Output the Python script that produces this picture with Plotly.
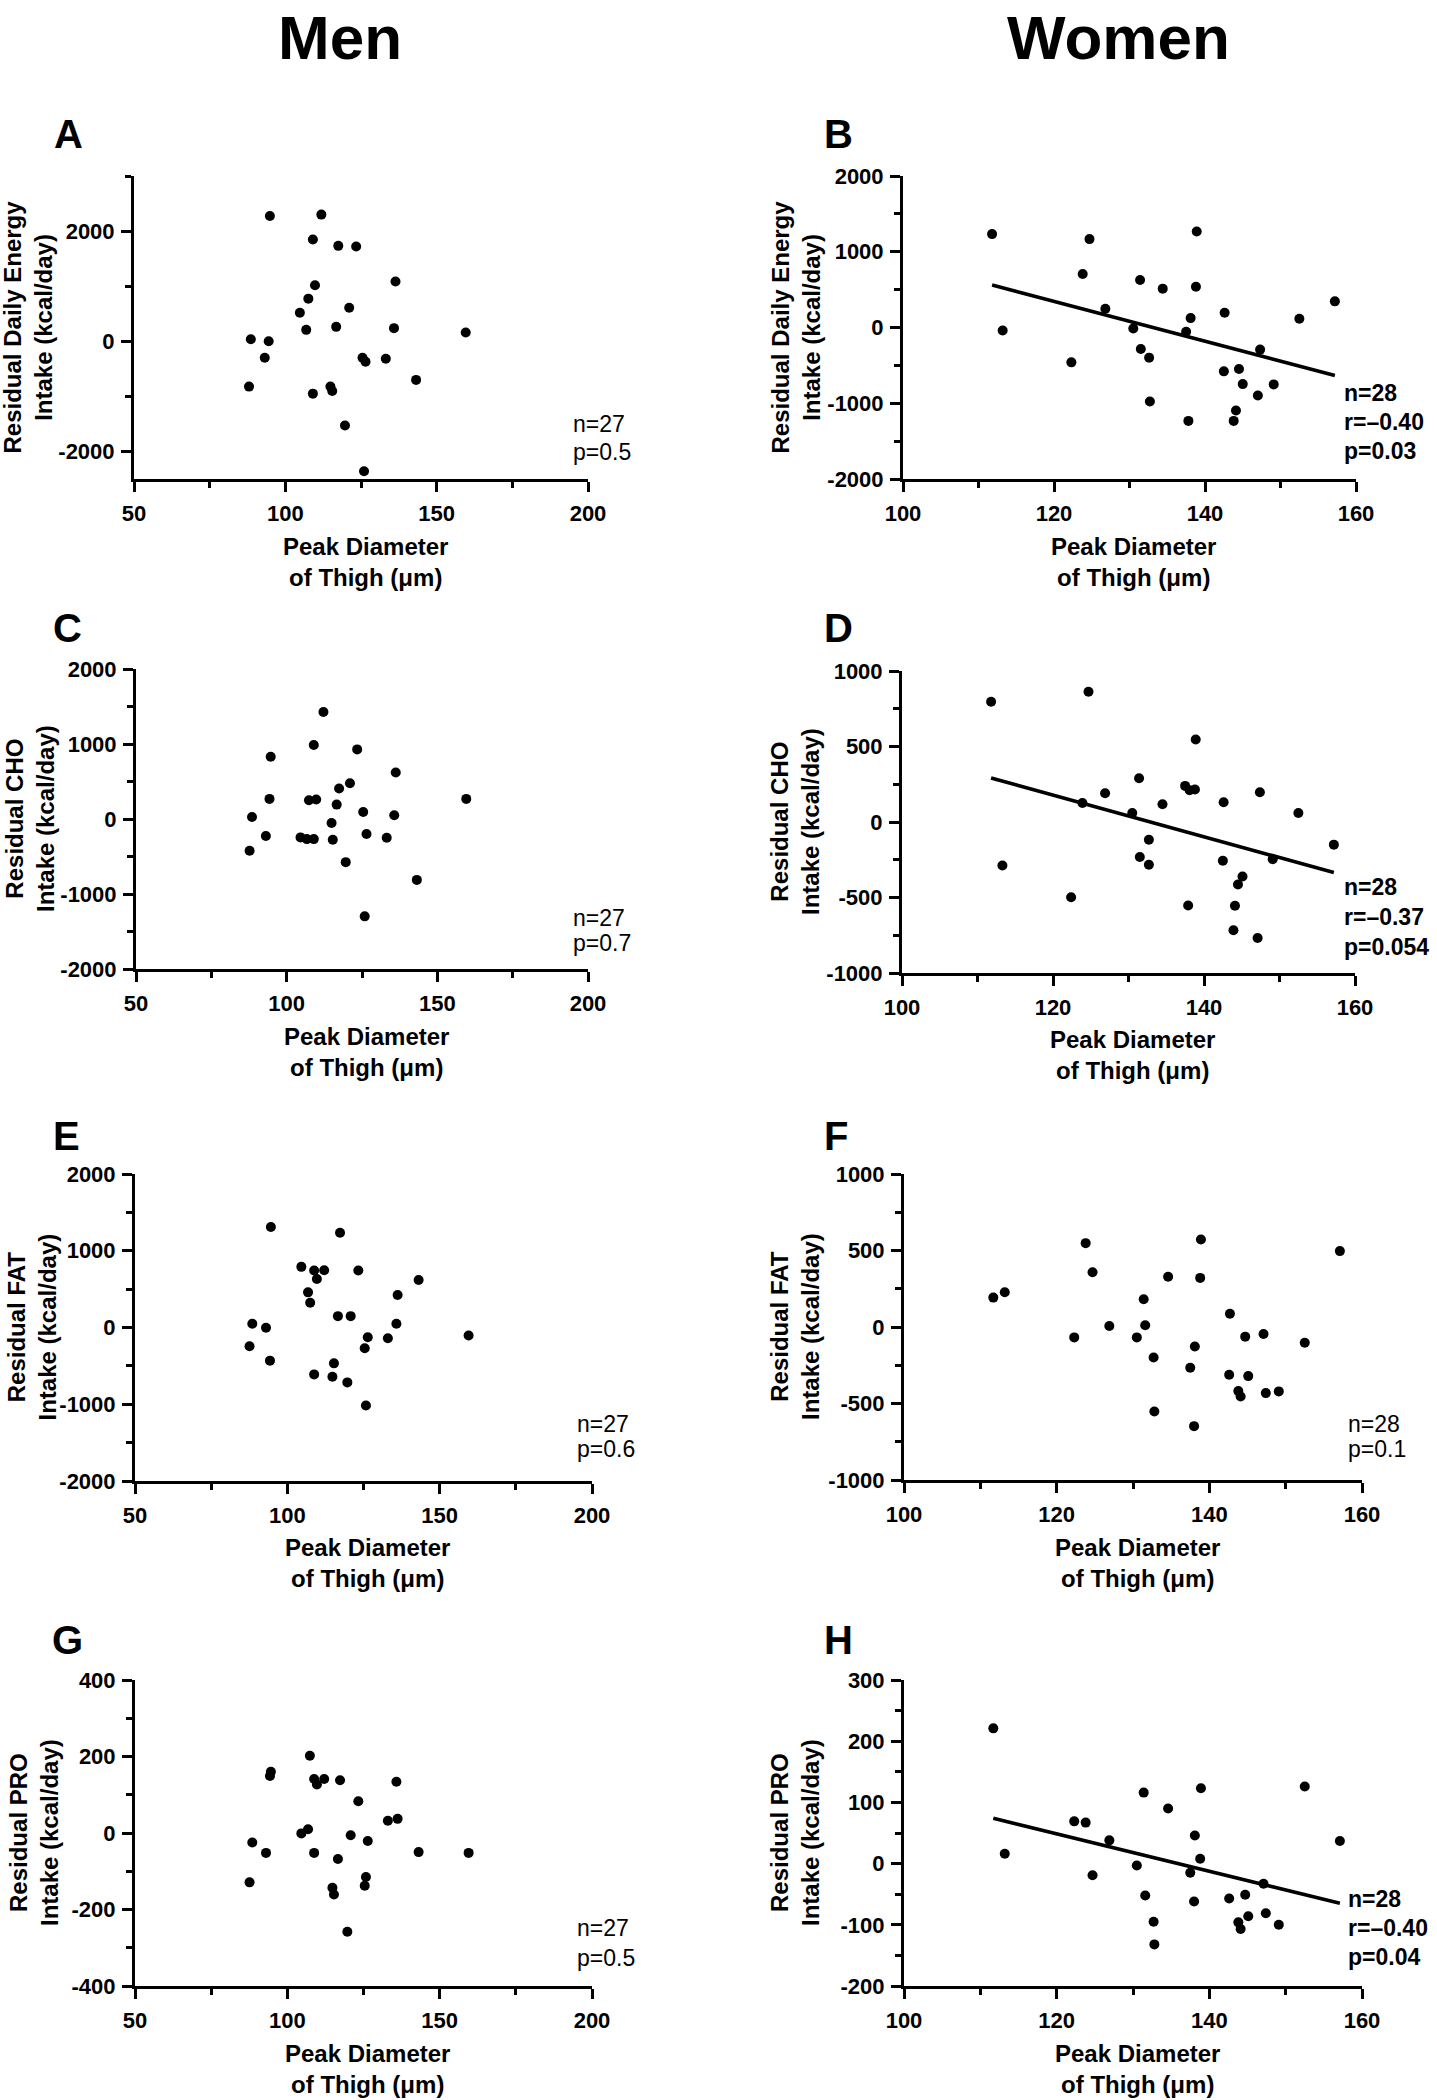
import numpy as np
import plotly.graph_objects as go

W, H = 1437, 2100

# ---------------- data ----------------
# Men: Peak diameter of thigh (um) vs residual intake (kcal/day)
men_energy_x = [94.9, 111.9, 109.1, 117.5, 123.4, 136.4, 109.8, 107.6, 104.8, 121.1, 106.9, 116.8, 135.9, 159.6,
                88.6, 94.5, 93.2, 125.5, 126.5, 133.2, 88.0, 143.2, 114.9, 115.5, 109.1, 119.7, 126.0]
men_energy_y = [2274, 2299, 1848, 1732, 1720, 1085, 1018, 774, 518, 610, 207, 262, 238, 159,
                37, 0, -299, -299, -372, -317, -823, -701, -823, -902, -951, -1530, -2360]

men_cho_x = [112.2, 109.0, 123.4, 94.7, 136.2, 121.0, 117.4, 94.3, 107.4, 109.8, 159.6, 116.6, 125.4, 135.7,
             88.5, 114.9, 93.1, 104.6, 106.7, 109.0, 115.3, 126.5, 133.2, 87.7, 119.6, 143.2, 125.9]
men_cho_y = [1427, 986, 928, 829, 620, 477, 406, 268, 250, 259, 268, 192, 94, 49,
             27, -54, -227, -245, -268, -268, -276, -201, -250, -424, -575, -812, -1298]

men_fat_x = [94.6, 117.3, 104.6, 108.8, 112.1, 123.3, 109.7, 143.1, 106.8, 136.2, 107.5, 116.6, 120.8, 88.5,
             93.0, 135.8, 159.5, 126.4, 133.0, 125.4, 87.6, 94.3, 115.3, 108.8, 114.8, 119.7, 125.8]
men_fat_y = [1309, 1234, 790, 742, 746, 742, 632, 619, 458, 423, 323, 148, 148, 48,
             -4, 48, -105, -126, -140, -270, -244, -432, -467, -611, -641, -715, -1016]

men_pro_x = [107.4, 94.6, 94.3, 108.8, 112.1, 109.7, 117.3, 135.8, 123.3, 133.0, 136.2, 106.8, 104.6, 120.8,
             126.4, 88.5, 93.0, 108.8, 143.1, 159.5, 116.6, 125.8, 125.4, 87.6, 114.8, 115.3, 119.7]
men_pro_y = [202, 160, 149, 141, 141, 127, 138, 134, 83, 32, 37, 10, -1, -6,
             -21, -25, -52, -52, -50, -52, -68, -115, -138, -129, -143, -161, -258]

# Women
women_energy_x = [111.8, 113.2, 124.7, 123.8, 122.3, 126.8, 130.5, 131.4, 131.5, 132.6, 132.7, 134.4, 138.9, 138.8,
                  138.1, 137.5, 137.8, 142.6, 142.5, 144.5, 145.0, 144.1, 143.8, 147.3, 147.0, 149.1, 152.5, 157.2]
women_energy_y = [1233, -40, 1167, 707, -460, 248, -13, 628, -283, -398, -977, 513, 1268, 539,
                  124, -57, -1233, 194, -579, -548, -747, -1096, -1233, -292, -897, -751, 115, 345]

women_cho_x = [111.8, 113.3, 124.7, 123.9, 122.4, 126.9, 130.5, 131.4, 131.5, 132.7, 132.7, 134.5, 138.9, 137.5,
               138.1, 138.8, 137.9, 142.6, 142.5, 145.1, 144.5, 144.1, 143.9, 147.4, 147.1, 149.1, 152.5, 157.2]
women_cho_y = [796, -288, 863, 126, -498, 190, 60, 290, -232, -117, -283, 117, 546, 239,
               210, 215, -553, 131, -257, -361, -414, -555, -717, 197, -768, -246, 60, -150]

women_fat_x = [111.7, 113.2, 123.8, 124.7, 122.3, 126.9, 130.5, 131.4, 131.6, 132.7, 132.8, 134.6, 138.9, 138.8,
               138.1, 137.5, 138.0, 142.7, 142.6, 144.7, 145.1, 143.8, 144.1, 147.1, 147.4, 149.1, 152.5, 157.1]
women_fat_y = [192, 227, 548, 358, -68, 7, -68, 181, 11, -199, -552, 328, 572, 321,
               -127, -266, -648, 87, -312, -63, -321, -419, -454, -46, -432, -421, -103, 496]

women_pro_x = [111.7, 113.2, 122.3, 123.8, 124.7, 126.9, 130.5, 131.4, 131.6, 132.7, 132.8, 134.6, 138.9, 138.1,
               138.8, 137.5, 138.0, 142.6, 144.7, 145.1, 143.8, 144.1, 147.1, 147.4, 149.1, 152.5, 157.1]
women_pro_y = [221, 16, 69, 67, -19, 38, -3, 116, -52, -95, -132, 90, 123, 46,
               8, -15, -62, -57, -51, -86, -96, -107, -33, -81, -100, 126, 37]

# tick values / labels
men_x_ticks = [50, 100, 150, 200]
women_x_ticks = [100, 120, 140, 160]
ticks_A = [-2000, 0, 2000]
ticks_2000 = [-2000, -1000, 0, 1000, 2000]
ticks_1000 = [-1000, -500, 0, 500, 1000]
ticks_400 = [-400, -200, 0, 200, 400]
ticks_H = [-200, -100, 0, 100, 200, 300]

column_titles = ["Men", "Women"]
stats_A = ["n=27", "p=0.5"]
stats_B = ["n=28", "r=\u20130.40", "p=0.03"]
stats_C = ["n=27", "p=0.7"]
stats_D = ["n=28", "r=\u20130.37", "p=0.054"]
stats_E = ["n=27", "p=0.6"]
stats_F = ["n=28", "p=0.1"]
stats_G = ["n=27", "p=0.5"]
stats_H = ["n=28", "r=\u20130.40", "p=0.04"]

ytitle_energy = "Residual Daily Energy<br>Intake (kcal/day)"
ytitle_cho = "Residual CHO<br>Intake (kcal/day)"
ytitle_fat = "Residual FAT<br>Intake (kcal/day)"
ytitle_pro = "Residual PRO<br>Intake (kcal/day)"
xtitle = "Peak Diameter<br>of Thigh (\u03bcm)"

# ---------------- panel configuration ----------------
FONT = "Arial, Liberation Sans, sans-serif"

panels = [
    dict(letter="A", x=men_energy_x, y=men_energy_y, fit=False, xr=[50, 200], xt=men_x_ticks, xminor=25,
         yr=[-2500, 3000], yt=ticks_A, yminor=1000, ytitle=ytitle_energy, stats=stats_A,
         box=(134, 588, 176, 479), letter_pos=(68, 134), ytitle_x=27, xtitle_y=562,
         stats_pos=(571, 424, 28), bold_stats=False),
    dict(letter="B", x=women_energy_x, y=women_energy_y, fit=True, xr=[100, 160], xt=women_x_ticks, xminor=10,
         yr=[-2000, 2000], yt=ticks_2000, yminor=500, ytitle=ytitle_energy, stats=stats_B,
         box=(903, 1356, 176, 479), letter_pos=(838, 134), ytitle_x=795, xtitle_y=562,
         stats_pos=(1342, 393, 29), bold_stats=True),
    dict(letter="C", x=men_cho_x, y=men_cho_y, fit=False, xr=[50, 200], xt=men_x_ticks, xminor=25,
         yr=[-2000, 2000], yt=ticks_2000, yminor=500, ytitle=ytitle_cho, stats=stats_C,
         box=(136, 588, 669, 969), letter_pos=(67, 628), ytitle_x=30, xtitle_y=1052,
         stats_pos=(571, 918, 25), bold_stats=False),
    dict(letter="D", x=women_cho_x, y=women_cho_y, fit=True, xr=[100, 160], xt=women_x_ticks, xminor=10,
         yr=[-1000, 1000], yt=ticks_1000, yminor=250, ytitle=ytitle_cho, stats=stats_D,
         box=(902, 1355, 671, 973), letter_pos=(838, 628), ytitle_x=795, xtitle_y=1055,
         stats_pos=(1342, 887, 30), bold_stats=True),
    dict(letter="E", x=men_fat_x, y=men_fat_y, fit=False, xr=[50, 200], xt=men_x_ticks, xminor=25,
         yr=[-2000, 2000], yt=ticks_2000, yminor=500, ytitle=ytitle_fat, stats=stats_E,
         box=(135, 592, 1174, 1481), letter_pos=(66, 1136), ytitle_x=31, xtitle_y=1563,
         stats_pos=(575, 1424, 25), bold_stats=False),
    dict(letter="F", x=women_fat_x, y=women_fat_y, fit=False, xr=[100, 160], xt=women_x_ticks, xminor=10,
         yr=[-1000, 1000], yt=ticks_1000, yminor=250, ytitle=ytitle_fat, stats=stats_F,
         box=(904, 1362, 1174, 1480), letter_pos=(836, 1136), ytitle_x=795, xtitle_y=1563,
         stats_pos=(1346, 1424, 25), bold_stats=False),
    dict(letter="G", x=men_pro_x, y=men_pro_y, fit=False, xr=[50, 200], xt=men_x_ticks, xminor=25,
         yr=[-400, 400], yt=ticks_400, yminor=100, ytitle=ytitle_pro, stats=stats_G,
         box=(135, 592, 1680, 1986), letter_pos=(67, 1640), ytitle_x=34, xtitle_y=2069,
         stats_pos=(575, 1928, 30), bold_stats=False),
    dict(letter="H", x=women_pro_x, y=women_pro_y, fit=True, xr=[100, 160], xt=women_x_ticks, xminor=10,
         yr=[-200, 300], yt=ticks_H, yminor=50, ytitle=ytitle_pro, stats=stats_H,
         box=(904, 1362, 1680, 1986), letter_pos=(838, 1640), ytitle_x=795, xtitle_y=2069,
         stats_pos=(1346, 1899, 29), bold_stats=True),
]


def px_x(v):
    return v / W


def px_y(v):
    return 1 - v / H


fig = go.Figure()
annotations = []
layout_axes = {}

for i, p in enumerate(panels):
    n = i + 1
    xa = "x" if n == 1 else f"x{n}"
    ya = "y" if n == 1 else f"y{n}"
    x0, x1, y0, y1 = p["box"]

    fig.add_trace(go.Scatter(
        x=p["x"], y=p["y"], xaxis=xa, yaxis=ya, mode="markers",
        marker=dict(color="black", size=10, line=dict(width=0)),
        cliponaxis=False, showlegend=False, hoverinfo="skip"))

    if p["fit"]:
        xs = np.array(p["x"], dtype=float)
        ys = np.array(p["y"], dtype=float)
        slope, icpt = np.polyfit(xs, ys, 1)
        lx = np.array([xs.min(), xs.max()])
        fig.add_trace(go.Scatter(
            x=lx, y=slope * lx + icpt, xaxis=xa, yaxis=ya, mode="lines",
            line=dict(color="black", width=3.6), showlegend=False, hoverinfo="skip"))

    common = dict(showline=True, linewidth=3, linecolor="black", showgrid=False, zeroline=False,
                  ticks="outside", ticklen=10, tickwidth=3, tickcolor="black", automargin=False,
                  tickfont=dict(family=FONT, size=22, color="black", weight="bold"),
                  tickmode="array", fixedrange=True)

    layout_axes["xaxis" if n == 1 else f"xaxis{n}"] = dict(
        common, domain=[px_x(x0), px_x(x1)], anchor=ya, range=p["xr"],
        tickvals=p["xt"], ticktext=[str(v) for v in p["xt"]], ticklabelstandoff=3,
        minor=dict(tickmode="linear", tick0=0, dtick=p["xminor"], ticks="outside", ticklen=6,
                   tickwidth=3, tickcolor="black", showgrid=False))
    layout_axes["yaxis" if n == 1 else f"yaxis{n}"] = dict(
        common, domain=[px_y(y1), px_y(y0)], anchor=xa, range=p["yr"],
        tickvals=p["yt"], ticktext=[str(v) for v in p["yt"]], ticklabelstandoff=2,
        minor=dict(tickmode="linear", tick0=0, dtick=p["yminor"], ticks="outside", ticklen=6,
                   tickwidth=3, tickcolor="black", showgrid=False))

    # panel letter
    lx_, ly_ = p["letter_pos"]
    annotations.append(dict(text=p["letter"], x=px_x(lx_), y=px_y(ly_), xref="paper", yref="paper",
                            xanchor="center", yanchor="middle", showarrow=False,
                            font=dict(family=FONT, size=40, color="black", weight="bold")))
    # y title
    annotations.append(dict(text=p["ytitle"], x=px_x(p["ytitle_x"]), y=px_y((y0 + y1) / 2),
                            xref="paper", yref="paper", xanchor="center", yanchor="middle",
                            textangle=-90, showarrow=False,
                            font=dict(family=FONT, size=24, color="black", weight="bold")))
    # x title
    annotations.append(dict(text=xtitle, x=px_x((x0 + x1) / 2 + 4), y=px_y(p["xtitle_y"]),
                            xref="paper", yref="paper", xanchor="center", yanchor="middle",
                            showarrow=False,
                            font=dict(family=FONT, size=24, color="black", weight="bold")))
    # stats text
    sx, sy, sdy = p["stats_pos"]
    for k, line in enumerate(p["stats"]):
        annotations.append(dict(text=line, x=px_x(sx), y=px_y(sy + k * sdy), xref="paper", yref="paper",
                                xanchor="left", yanchor="middle", showarrow=False,
                                font=dict(family=FONT, size=23, color="black",
                                          weight="bold" if p["bold_stats"] else "normal")))

# column titles
for t, cx in zip(column_titles, [340, 1118]):
    annotations.append(dict(text=t, x=px_x(cx), y=px_y(37), xref="paper", yref="paper",
                            xanchor="center", yanchor="middle", showarrow=False,
                            font=dict(family=FONT, size=62, color="black", weight="bold")))

fig.update_layout(
    width=W, height=H, autosize=False,
    margin=dict(l=0, r=0, t=0, b=0, pad=0, autoexpand=False),
    paper_bgcolor="white", plot_bgcolor="white",
    showlegend=False, annotations=annotations, **layout_axes)

fig.write_html("out.html", config={"displayModeBar": False},
               post_script="document.body.style.margin='0px';document.body.style.padding='0px';")
